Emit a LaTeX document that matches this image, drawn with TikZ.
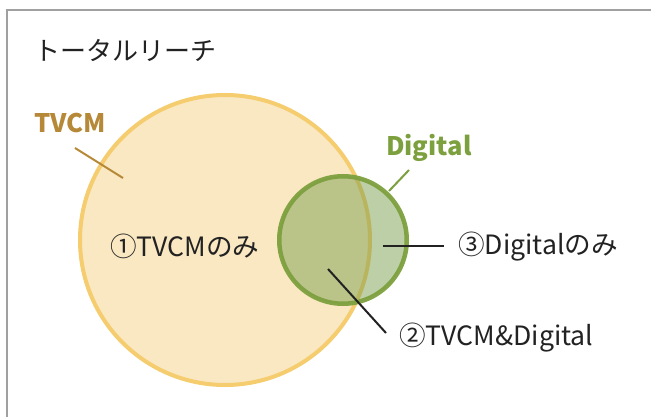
\documentclass[tikz,border=0pt]{standalone}
\usepackage{fontspec}
\setmainfont{Noto Sans CJK JP}
\definecolor{frame}{RGB}{160,160,160}
\definecolor{yfill}{RGB}{249,232,194}
\definecolor{ystroke}{RGB}{245,204,110}
\definecolor{gold}{RGB}{182,137,56}
\definecolor{gfill}{RGB}{125,160,80}
\definecolor{gstroke}{RGB}{125,160,62}
\definecolor{txt}{RGB}{34,34,34}
\tikzset{
  lbl/.style={inner sep=0pt, anchor=west, text=txt, font=\fontsize{26.6}{31}\selectfont},
  setlbl/.style={inner sep=0pt, anchor=west, font=\bfseries\fontsize{25.5}{30}\selectfont},
  leader/.style={line width=2pt}
}
\begin{document}
\begin{tikzpicture}[x=1pt,y=-1pt]
\useasboundingbox (0,0) rectangle (651,417);
\fill[white] (0,0) rectangle (651,417);
\draw[frame, line width=2.5pt] (7,440) -- (7,10) -- (670,10);
\node[lbl, font=\fontsize{26}{31}\selectfont] (title) at (34,50) {トータルリーチ};
% circles
\node[circle, minimum size=290pt, inner sep=0pt, fill=yfill, draw=ystroke, line width=4pt] (tv) at (225,240) {};
\node[circle, minimum size=127.5pt, inner sep=0pt, fill=gfill, fill opacity=0.5, draw=gstroke, draw opacity=0.95, line width=4.5pt] (dg) at (343,240) {};
% set labels
\node[setlbl, text=gold] (tvl) at (34,123) {TVCM};
\node[setlbl, text=gstroke] (dgl) at (386,148) {Digital};
\coordinate (tva) at (75,148);
\coordinate (tvb) at (123,178);
\draw[leader, gold] (tva) -- (tvb);
\coordinate (dga) at (409,170);
\coordinate (dgb) at (389,191);
\draw[leader, gstroke] (dga) -- (dgb);
% region labels
\node[lbl] (r1) at (110,246) {①TVCMのみ};
\node[lbl] (r3) at (458,247) {③Digitalのみ};
\node[lbl] (r2) at (399,338) {②TVCM\&Digital};
\coordinate (r3a) at (383,246);
\coordinate (r3b) at (444,246);
\draw[leader, txt] (r3a) -- (r3b);
\coordinate (r2a) at (328,269);
\coordinate (r2b) at (386,333);
\draw[leader, txt] (r2a) -- (r2b);
\end{tikzpicture}
\end{document}
